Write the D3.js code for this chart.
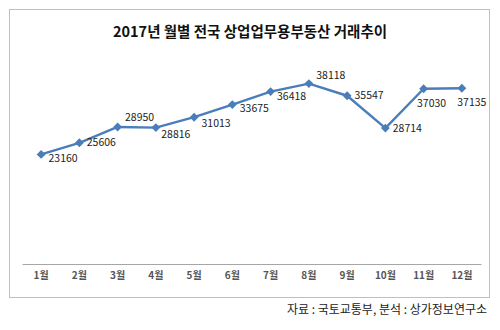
<!DOCTYPE html>
<html>
<head>
<meta charset="utf-8">
<script src="https://cdn.jsdelivr.net/npm/d3@7"></script>
<style>
  body { margin: 0; background: #fff; }
  svg { display: block; font-family: "Noto Sans CJK KR", "Noto Sans", sans-serif; }
</style>
</head>
<body>
<div id="chart"></div>
<script>
// 월별 거래량
var months = ["1월", "2월", "3월", "4월", "5월", "6월", "7월", "8월", "9월", "10월", "11월", "12월"];
var deals = [23160, 25606, 28950, 28816, 31013, 33675, 36418, 38118, 35547, 28714, 37030, 37135];

// 데이터 레이블 위치 (점 기준 이동량)
var labelOffsets = [
    [22, 4], [22, 0], [22, -10], [20, 7], [22, 6], [22, 4],
    [21, 5], [22, -8], [22, 0], [22, 0], [8, 15], [10, 14]
];

var width = 500, height = 330;
var margin = {top: 51, right: 19, bottom: 66, left: 22};

var svg = d3.select("#chart")
    .append("svg")
    .attr("width", width)
    .attr("height", height);

// 차트 테두리
svg.append("rect")
    .attr("x", 9.5)
    .attr("y", 9.5)
    .attr("width", 480)
    .attr("height", 288)
    .attr("fill", "#fff")
    .attr("stroke", "#bfbfbf");

// 제목
svg.append("text")
    .attr("x", 250)
    .attr("y", 32)
    .attr("dy", "0.35em")
    .attr("text-anchor", "middle")
    .attr("font-size", 14.5)
    .attr("font-weight", "bold")
    .attr("fill", "#111")
    .text("2017년 월별 전국 상업업무용부동산 거래추이");

var xScale = d3.scaleBand()
    .domain(months)
    .range([margin.left, width - margin.right]);

var yScale = d3.scaleLinear()
    .domain([0, 45000])
    .range([height - margin.bottom, margin.top]);

// x축
var xAxis = svg.append("g")
    .attr("transform", "translate(0," + (height - margin.bottom) + ")")
    .call(d3.axisBottom(xScale).tickSize(0).tickPadding(8));
xAxis.select(".domain").attr("stroke", "#a6a6a6");
xAxis.selectAll("text")
    .attr("font-size", 10)
    .attr("font-weight", "bold")
    .attr("fill", "#555")
    .attr("font-family", "\"Noto Sans CJK KR\", sans-serif");

// 꺾은선
var line = d3.line()
    .x(function (d, i) { return xScale(months[i]) + xScale.bandwidth() / 2; })
    .y(function (d) { return yScale(d); });

svg.append("path")
    .datum(deals)
    .attr("fill", "none")
    .attr("stroke", "#4a7ebb")
    .attr("stroke-width", 2.4)
    .attr("stroke-linejoin", "round")
    .attr("d", line);

// 마름모 마커
svg.append("g")
    .selectAll("path")
    .data(deals)
    .enter()
    .append("path")
    .attr("d", d3.symbol().type(d3.symbolDiamond2).size(50))
    .attr("transform", function (d, i) {
        return "translate(" + (xScale(months[i]) + xScale.bandwidth() / 2) + "," + yScale(d) + ")";
    })
    .attr("fill", "#4a7ebb");

// 값 레이블
svg.append("g")
    .selectAll("text")
    .data(deals)
    .enter()
    .append("text")
    .attr("x", function (d, i) {
        return xScale(months[i]) + xScale.bandwidth() / 2 + labelOffsets[i][0];
    })
    .attr("y", function (d, i) {
        return yScale(d) + labelOffsets[i][1];
    })
    .attr("dy", "0.35em")
    .attr("text-anchor", "middle")
    .attr("font-size", 10.5)
    .attr("fill", "#222")
    .text(function (d) { return d; });

// 출처
svg.append("text")
    .attr("x", 487)
    .attr("y", 310)
    .attr("dy", "0.35em")
    .attr("text-anchor", "end")
    .attr("font-size", 12)
    .attr("fill", "#222")
    .text("자료 : 국토교통부, 분석 : 상가정보연구소");
</script>
</body>
</html>
